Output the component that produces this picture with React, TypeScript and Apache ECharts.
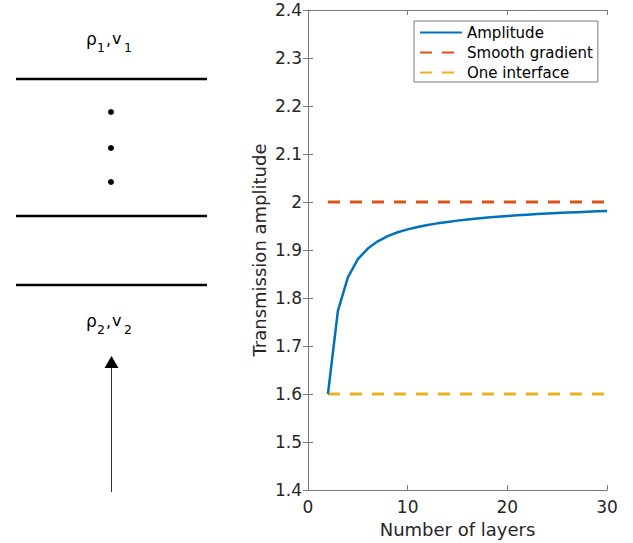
import React, { useEffect, useRef } from "react";
import * as echarts from "echarts";

const layers = [2, 3, 4, 5, 6, 7, 8, 9, 10, 11, 12, 13, 14, 15, 16, 17, 18, 19, 20, 21, 22, 23, 24, 25, 26, 27, 28, 29, 30];
const amplitude = [1.6, 1.773, 1.843, 1.881, 1.903, 1.918, 1.929, 1.937, 1.943, 1.948, 1.952, 1.9555, 1.9585, 1.9612, 1.9636, 1.9657, 1.9676, 1.9693, 1.9709, 1.9723, 1.9736, 1.9748, 1.9759, 1.9769, 1.9779, 1.9788, 1.9797, 1.9805, 1.9813];
const smoothGradientX = [2, 30];
const smoothGradient = [2, 2];
const oneInterfaceX = [2, 30];
const oneInterface = [1.6, 1.6];
const seriesNames = ["Amplitude", "Smooth gradient", "One interface"];
const xTicks = { min: 0, max: 30, interval: 10 };
const yTicks = { min: 1.4, max: 2.4, interval: 0.1 };

const FONT = "DejaVu Sans";
const AXIS_COLOR = "#7a7a7a";
const TEXT_COLOR = "#262626";

export default function App() {
  const ref = useRef<HTMLDivElement>(null);
  useEffect(() => {
    document.body.style.margin = "0";
    const chart = echarts.init(ref.current!, undefined, { renderer: "svg" });

    const axisCommon = {
      type: "value" as const,
      axisLine: { show: true, lineStyle: { color: AXIS_COLOR, width: 1 } },
      axisTick: { show: true, inside: true, length: 5, lineStyle: { color: AXIS_COLOR } },
      splitLine: { show: false },
    };

    const sub = (t: string, x: number, y: number, size: number) => ({
      type: "text",
      x,
      y,
      style: { text: t, font: `${size}px ${FONT}`, fill: "#000", textAlign: "left", textVerticalAlign: "middle" },
    });
    const label = (i: string, dy: number) => [
      sub("ρ", 86, 38.5 + dy, 17),
      sub(i, 97, 47.5 + dy, 12.5),
      sub(",", 106, 39 + dy, 16),
      sub("v", 112, 38.5 + dy, 16),
      sub(i, 124, 47.5 + dy, 12.5),
    ];
    const hline = (y: number) => ({
      type: "line",
      shape: { x1: 16, y1: y, x2: 207, y2: y },
      style: { stroke: "#000", lineWidth: 2.5 },
    });
    const dot = (y: number) => ({ type: "circle", shape: { cx: 111, cy: y, r: 3 }, style: { fill: "#000" } });

    chart.setOption({
      animation: false,
      backgroundColor: "#fff",
      textStyle: { fontFamily: FONT },
      grid: { left: 308, top: 10, width: 299, height: 481 },
      legend: {
        orient: "vertical",
        left: 414,
        top: 21,
        padding: [4, 5, 2, 5],
        itemWidth: 42,
        itemHeight: 14,
        itemGap: 5,
        backgroundColor: "#fff",
        borderColor: AXIS_COLOR,
        borderWidth: 1,
        borderRadius: 0,
        itemStyle: { opacity: 0 },
        textStyle: { fontFamily: FONT, fontSize: 15, color: "#000" },
        data: seriesNames,
      },
      xAxis: [
        {
          ...axisCommon,
          ...xTicks,
          position: "bottom",
          name: "Number of layers",
          nameLocation: "middle",
          nameGap: 30,
          nameTextStyle: { fontFamily: FONT, fontSize: 18, color: TEXT_COLOR },
          axisLabel: { fontFamily: FONT, fontSize: 17, color: TEXT_COLOR, margin: 8 },
        },
        { ...axisCommon, ...xTicks, position: "top", axisLabel: { show: false } },
      ],
      yAxis: [
        {
          ...axisCommon,
          ...yTicks,
          position: "left",
          name: "Transmission amplitude",
          nameLocation: "middle",
          nameGap: 40,
          nameTextStyle: { fontFamily: FONT, fontSize: 18, color: TEXT_COLOR },
          axisLabel: { fontFamily: FONT, fontSize: 17, color: TEXT_COLOR, margin: 6 },
        },
        { ...axisCommon, ...yTicks, position: "right", axisLabel: { show: false } },
      ],
      series: [
        {
          name: seriesNames[0],
          type: "line",
          data: layers.map((n, i) => [n, amplitude[i]]),
          symbol: "none",
          lineStyle: { color: "#0072BD", width: 2.5 },
          itemStyle: { color: "#0072BD" },
          z: 3,
        },
        {
          name: seriesNames[1],
          type: "line",
          data: smoothGradientX.map((x, i) => [x, smoothGradient[i]]),
          symbol: "none",
          lineStyle: { color: "#D95319", width: 3, type: [12, 10] },
          itemStyle: { color: "#D95319" },
          z: 2,
        },
        {
          name: seriesNames[2],
          type: "line",
          data: oneInterfaceX.map((x, i) => [x, oneInterface[i]]),
          symbol: "none",
          lineStyle: { color: "#EDB120", width: 3, type: [12, 10] },
          itemStyle: { color: "#EDB120" },
          z: 2,
        },
      ],
      graphic: [
        hline(79),
        hline(216),
        hline(285),
        dot(112),
        dot(148),
        dot(182),
        ...label("1", 0),
        ...label("2", 282),
        {
          type: "line",
          shape: { x1: 111.5, y1: 492, x2: 111.5, y2: 366 },
          style: { stroke: "#333", lineWidth: 1 },
        },
        {
          type: "polygon",
          shape: { points: [[104.5, 368], [118.5, 368], [111.5, 356]] },
          style: { fill: "#000" },
        },
      ],
    });
    return () => chart.dispose();
  }, []);
  return <div ref={ref} style={{ width: 633, height: 543 }} />;
}
